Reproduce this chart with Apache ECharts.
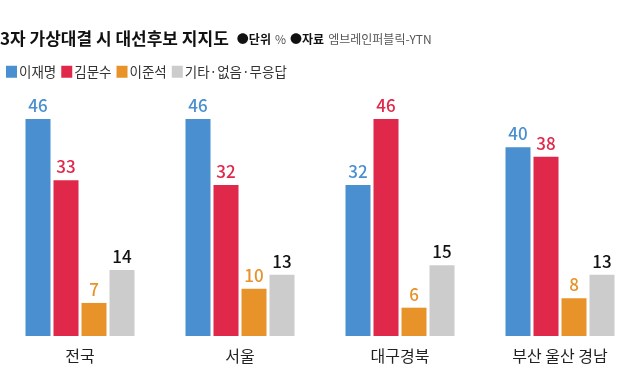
<!DOCTYPE html>
<html><head><meta charset="utf-8">
<script src="https://cdn.jsdelivr.net/npm/echarts@6/dist/echarts.min.js"></script>
<style>html,body{margin:0;padding:0;background:#fff}#c{width:640px;height:390px}</style>
</head><body><div id="c"></div>
<script>
const categories = ['전국', '서울', '대구경북', '부산 울산 경남'];
const seriesNames = ['이재명', '김문수', '이준석', '기타·없음·무응답'];
const leeJaemyung = [46, 46, 32, 40];
const kimMoonsoo = [33, 32, 46, 38];
const leeJunseok = [7, 10, 6, 8];
const others = [14, 13, 15, 13];
const barColors = ['#4a8fd0', '#e0294a', '#e8922a', '#cccccc'];
const labelColors = ['#4a8fd0', '#e0294a', '#e8922a', '#111111'];
const FONT = '"Noto Sans CJK KR", "Noto Sans", sans-serif';
const dataSets = [leeJaemyung, kimMoonsoo, leeJunseok, others];

const chart = echarts.init(document.getElementById('c'));
chart.setOption({
  backgroundColor: '#fff',
  animation: false,
  textStyle: { fontFamily: FONT },
  title: {
    left: 0, top: 30, padding: 0,
    text: '{a|3자 가상대결 시 대선후보 지지도}  {b|●단위} {c|%} {b|●자료} {c|엠브레인퍼블릭-YTN}',
    textStyle: {
      fontWeight: 'normal',
      rich: {
        a: { fontFamily: FONT, fontSize: 17, fontWeight: 'bold', color: '#111' },
        b: { fontFamily: FONT, fontSize: 12, fontWeight: 'bold', color: '#111' },
        c: { fontFamily: FONT, fontSize: 12, fontWeight: 'normal', color: '#555' }
      }
    }
  },
  legend: {
    left: 6, top: 65, padding: 0,
    itemWidth: 11, itemHeight: 12, itemGap: 5,
    icon: 'rect',
    textStyle: { fontFamily: FONT, fontSize: 13.5, color: '#333', padding: [0, 0, 0, -3] },
    data: seriesNames
  },
  grid: { left: 0, right: 0, top: 100, bottom: 54 },
  xAxis: {
    type: 'category', data: categories,
    axisLine: { show: false }, axisTick: { show: false },
    axisLabel: { fontFamily: FONT, fontSize: 16, color: '#222', margin: 12 }
  },
  yAxis: { type: 'value', min: 0, max: 50, show: false, splitLine: { show: false } },
  series: dataSets.map((d, i) => ({
    name: seriesNames[i], type: 'bar', data: d,
    barWidth: 25, barGap: '12%',
    itemStyle: { color: barColors[i] },
    label: {
      show: true, position: 'top', distance: 5,
      fontFamily: FONT, fontSize: 17, fontWeight: 500, color: labelColors[i]
    }
  }))
});
</script></body></html>
